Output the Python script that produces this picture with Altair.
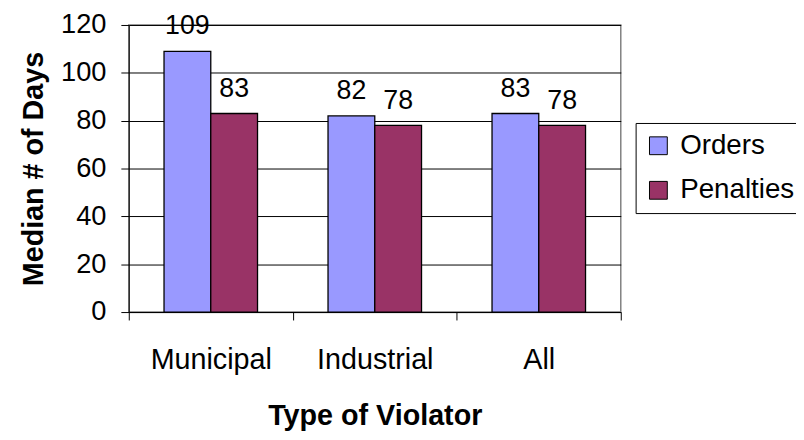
import altair as alt
import pandas as pd

categories = ["Municipal", "Industrial", "All"]
series = ["Orders", "Penalties"]
orders = [109, 82, 83]
penalties = [83, 78, 78]
colors = ["#9999FF", "#993366"]
y_ticks = [0, 20, 40, 60, 80, 100, 120]

rows = []
for c, o, p in zip(categories, orders, penalties):
    rows.append({"type": c, "series": "Orders", "value": o})
    rows.append({"type": c, "series": "Penalties", "value": p})
df = pd.DataFrame(rows)

FONT = "Liberation Sans"

x_enc = alt.X(
    "type:N",
    sort=categories,
    scale=alt.Scale(paddingInner=0, paddingOuter=0),
    axis=alt.Axis(
        title="Type of Violator",
        titleFont=FONT,
        titleFontSize=29,
        titleFontWeight="bold",
        titleColor="black",
        titleBaseline="alphabetic",
        titleY=114,
        labelFont=FONT,
        labelFontSize=29,
        labelColor="black",
        labelAngle=0,
        labelBaseline="alphabetic",
        labelPadding=49,
        tickBand="extent",
        tickSize=8,
        tickColor="black",
        domainColor="black",
        grid=False,
    ),
)
xoff_enc = alt.XOffset(
    "series:N", sort=series, scale=alt.Scale(paddingInner=0, paddingOuter=0.754)
)
y_enc = alt.Y(
    "value:Q",
    scale=alt.Scale(domain=[0, 120], nice=False),
    axis=alt.Axis(
        title="Median # of Days",
        titleFont=FONT,
        titleFontSize=29,
        titleFontWeight="bold",
        titleColor="black",
        titleBaseline="alphabetic",
        titleAngle=270,
        titleX=-87,
        titleY=145,
        titleAlign="center",
        values=y_ticks,
        labelFont=FONT,
        labelFontSize=27.5,
        labelColor="black",
        labelPadding=15,
        tickSize=8,
        tickColor="black",
        domainColor="black",
        grid=True,
        gridColor="black",
        gridWidth=1,
    ),
)

color_enc = alt.Color(
    "series:N",
    sort=series,
    scale=alt.Scale(domain=series, range=colors),
    legend=alt.Legend(
        title=None,
        orient="none",
        legendX=512,
        legendY=99,
        symbolType="square",
        symbolSize=324,
        symbolStrokeColor="black",
        symbolStrokeWidth=1,
        labelFont=FONT,
        labelFontSize=28,
        labelColor="black",
        labelOffset=8,
        rowPadding=17,
        padding=9,
        strokeColor="black",
        fillColor="white",
    ),
)

bars = alt.Chart(df).mark_bar(stroke="black", strokeWidth=1.3).encode(
    x=x_enc, xOffset=xoff_enc, y=y_enc, color=color_enc
)
labels = alt.Chart(df).mark_text(
    dy=-17, baseline="alphabetic", fontSize=27, font=FONT, color="black"
).encode(x=x_enc, xOffset=xoff_enc, y=y_enc, text="value:Q")

chart = (
    alt.layer(bars, labels)
    .properties(
        width=497,
        height=290,
        autosize=alt.AutoSizeParams(type="none"),
        padding={"left": 122, "top": 15, "right": 177, "bottom": 119},
        background="white",
    )
    .configure_view(stroke="#808080", strokeWidth=1.5)
)

chart.save("out.html", embed_options={"renderer": "svg", "actions": False})
